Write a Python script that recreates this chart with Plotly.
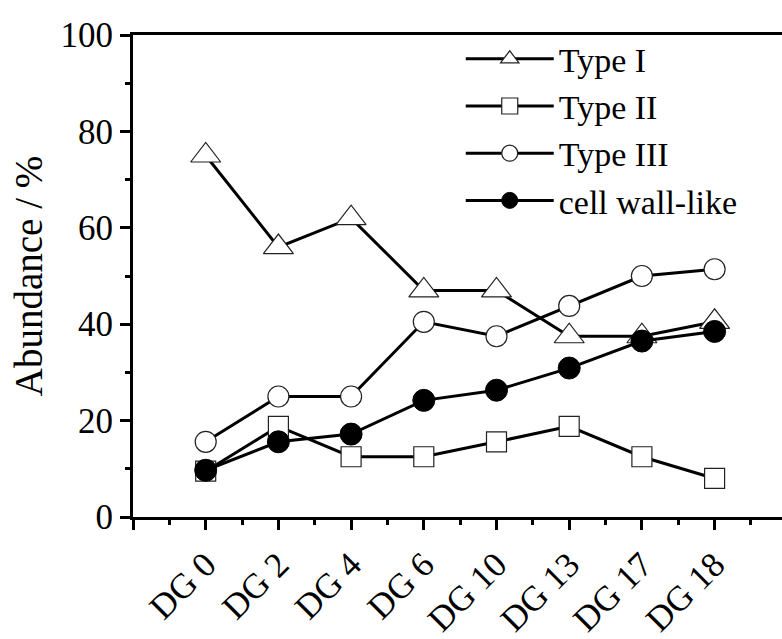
import plotly.graph_objects as go

categories = ["DG 0", "DG 2", "DG 4", "DG 6", "DG 10", "DG 13", "DG 17", "DG 18"]
type_i = [75, 56, 62, 47, 47, 37.5, 37.5, 40.5]
type_ii = [9.5, 18.8, 12.5, 12.5, 15.6, 18.8, 12.5, 8]
type_iii = [15.6, 25, 25, 40.5, 37.5, 43.8, 50, 51.4]
cell_wall = [9.7, 15.6, 17.2, 24.2, 26.3, 30.9, 36.5, 38.5]
y_ticks = [0, 20, 40, 60, 80, 100]

x = list(range(len(categories)))
FONT = "Liberation Serif, Times New Roman, serif"

fig = go.Figure()
series = [
    ("Type I", type_i, dict(symbol="triangle-up", size=26, color="white", line=dict(color="#222", width=1.2))),
    ("Type II", type_ii, dict(symbol="square", size=20, color="white", line=dict(color="#222", width=1.2))),
    ("Type III", type_iii, dict(symbol="circle", size=21, color="white", line=dict(color="#222", width=1.2))),
    ("cell wall-like", cell_wall, dict(symbol="circle", size=22, color="black", line=dict(color="black", width=1))),
]
for name, vals, mk in series:
    fig.add_trace(go.Scatter(x=x, y=vals, name=name, mode="lines+markers",
                             line=dict(color="black", width=3), marker=mk))

fig.update_layout(
    width=782, height=639,
    margin=dict(l=133, r=0, t=35, b=122),
    plot_bgcolor="white", paper_bgcolor="white",
    font=dict(family=FONT, color="black", size=35),
    showlegend=True,
    legend=dict(x=0.505, y=1.01, xanchor="left", yanchor="top",
                bgcolor="rgba(0,0,0,0)", font=dict(size=34, family=FONT),
                itemwidth=88, tracegroupgap=0),
    xaxis=dict(
        range=[-1, -1 + 649 / 72.7],
        tickmode="array", tickvals=[-1] + x, ticktext=[""] + categories,
        tickangle=-45, ticks="outside", ticklen=10, tickwidth=2.5, tickcolor="black",
        showline=True, linewidth=3, linecolor="black", mirror=True,
        showgrid=False, zeroline=False,
        tickfont=dict(size=35, family=FONT),
        minor=dict(tickmode="linear", tick0=-0.5, dtick=1, ticks="outside",
                   ticklen=5, tickwidth=2.5, tickcolor="black", showgrid=False),
    ),
    yaxis=dict(
        range=[0, 100], tickmode="array", tickvals=y_ticks,
        ticks="outside", ticklen=10, tickwidth=2.5, tickcolor="black",
        showline=True, linewidth=3, linecolor="black",
        showgrid=False, zeroline=False,
        tickfont=dict(size=35, family=FONT),
        title=dict(text="Abundance / %", font=dict(size=39, family=FONT), standoff=6),
        minor=dict(tickmode="linear", tick0=10, dtick=20, ticks="outside",
                   ticklen=5, tickwidth=2.5, tickcolor="black", showgrid=False),
    ),
)

fig.write_html("out.html", config={"displayModeBar": False},
               post_script="document.body.style.margin='0';document.body.style.overflow='hidden';")
